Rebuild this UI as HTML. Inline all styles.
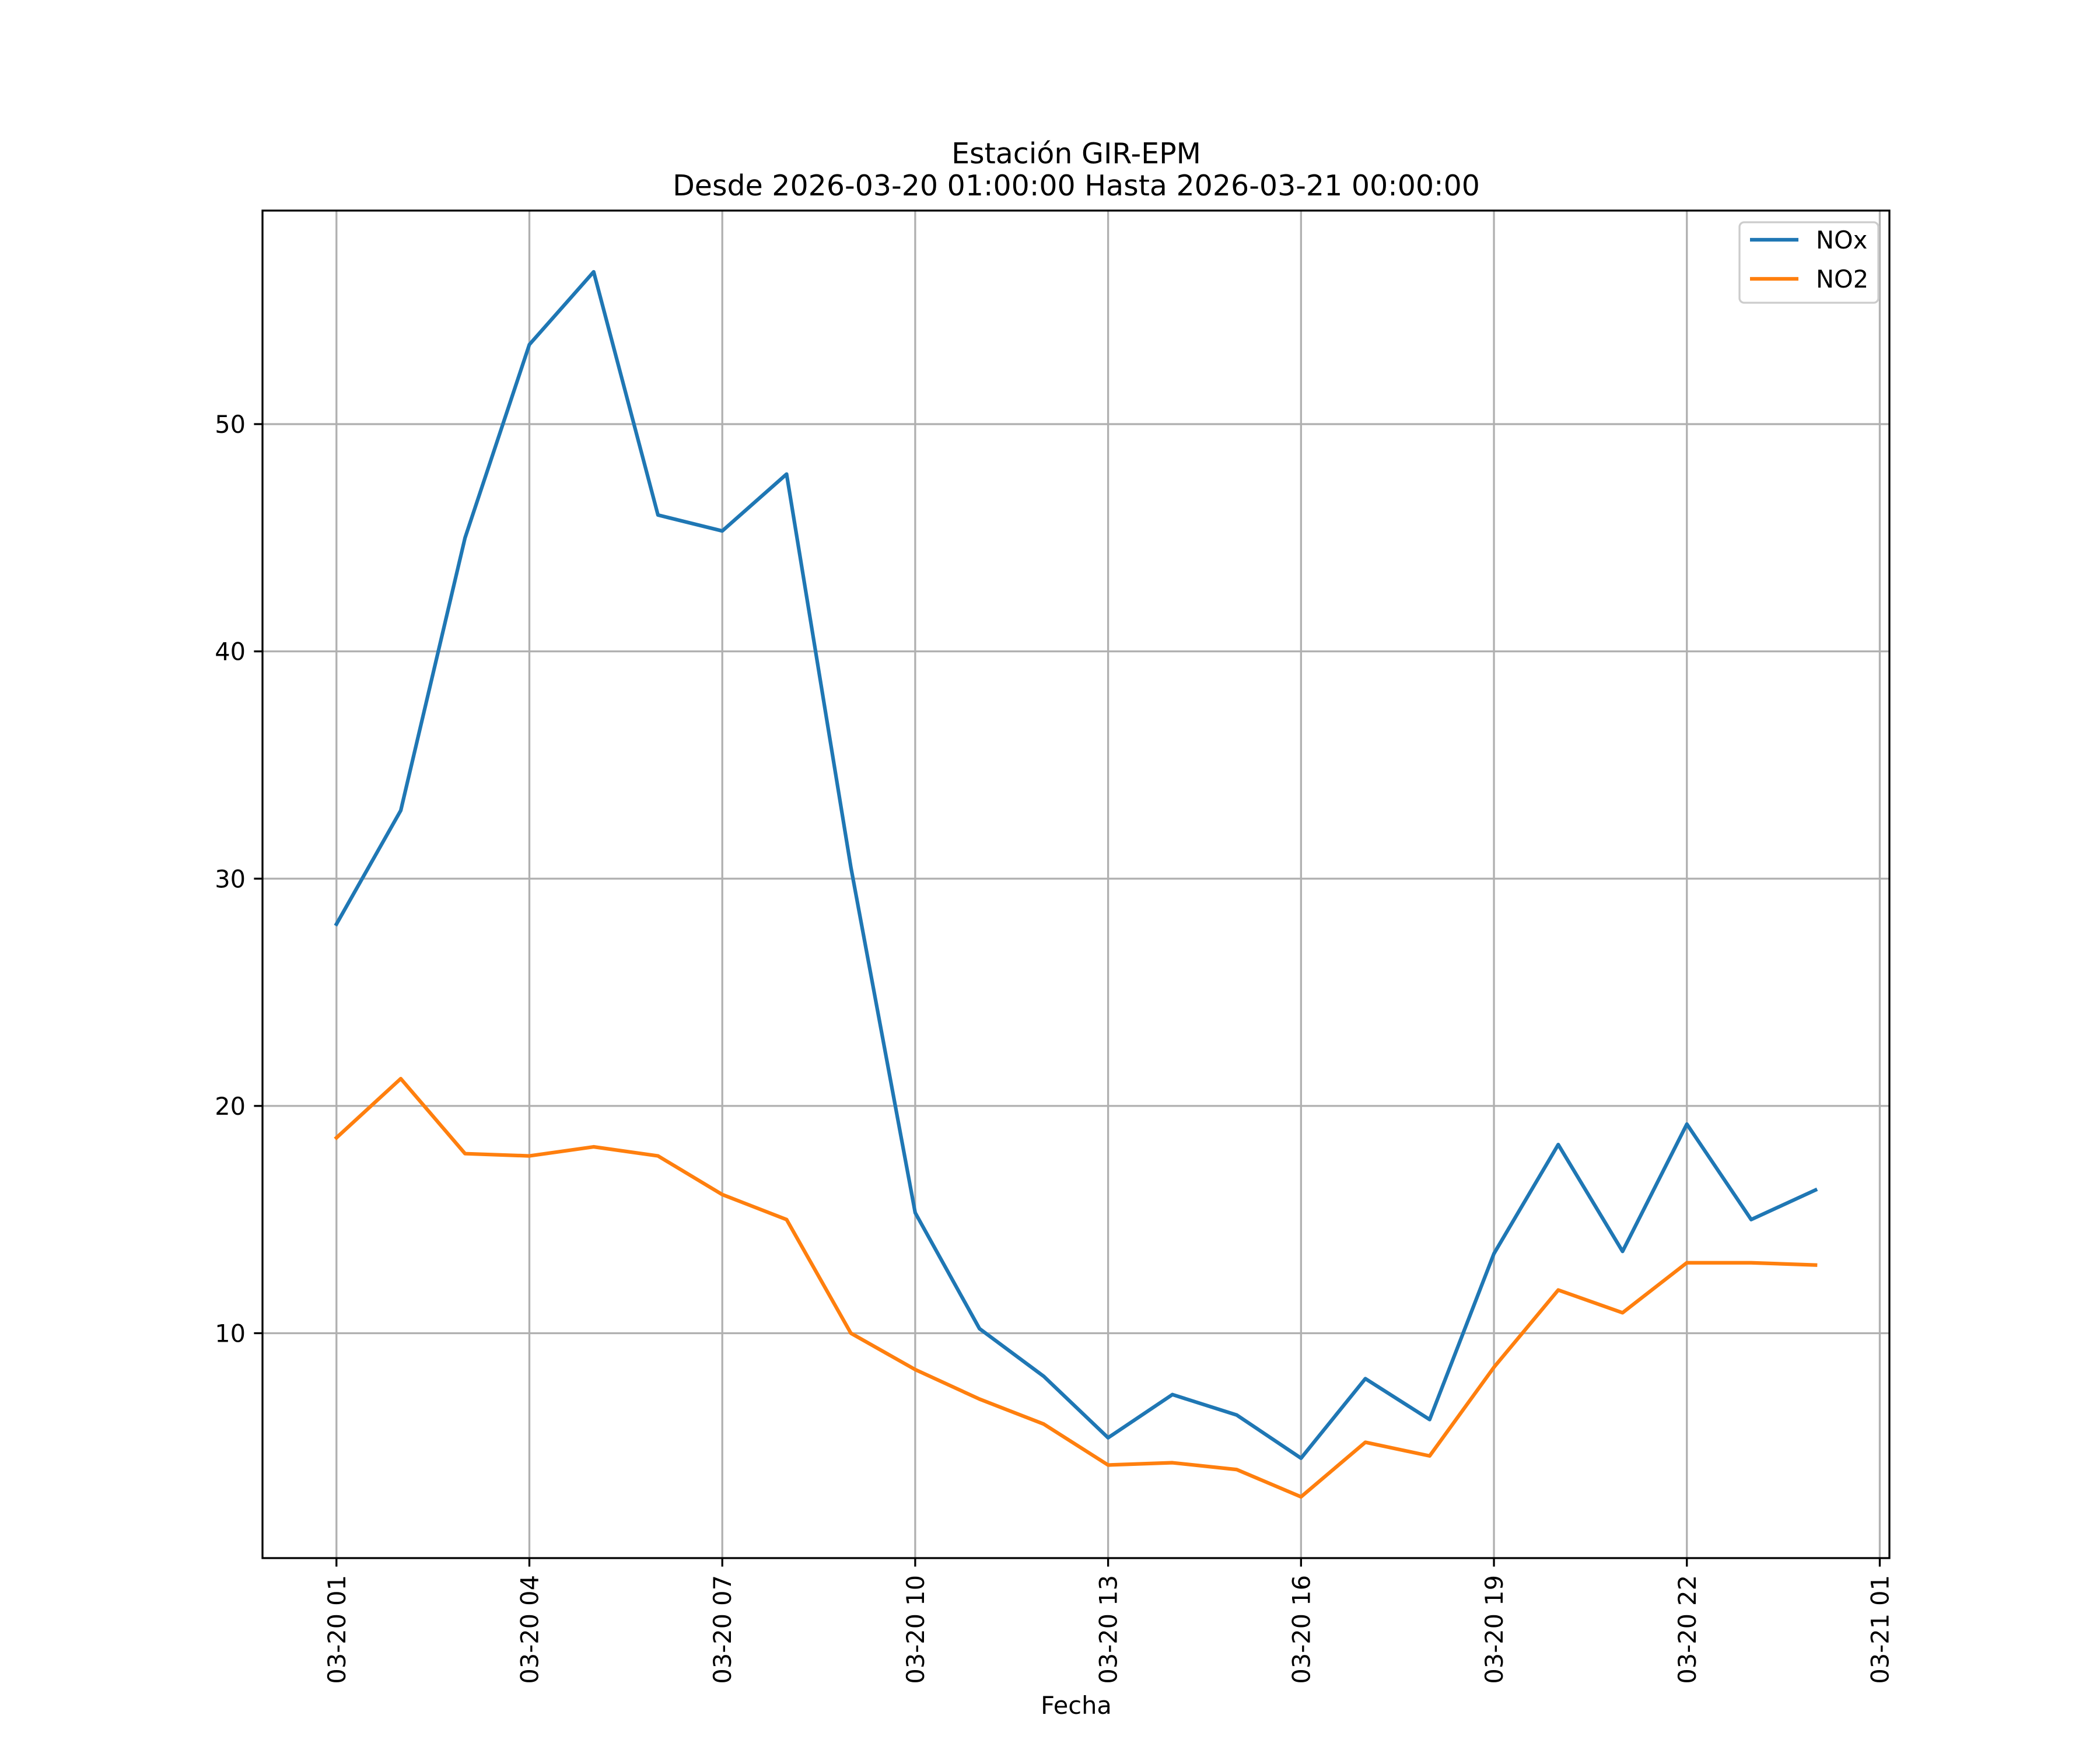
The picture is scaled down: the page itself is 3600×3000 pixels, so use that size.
<!DOCTYPE html>
<html><head><meta charset="utf-8"><style>
html,body{margin:0;padding:0;background:#fff;}
svg{display:block;font-family:"DejaVu Sans","Liberation Sans",sans-serif;}
</style></head><body>
<svg id="chart" width="3600" height="3000" viewBox="0 0 3600 3000" xmlns="http://www.w3.org/2000/svg">
<rect width="3600" height="3000" fill="#fff"/>
<text x="1845" y="280" font-size="49" text-anchor="middle">Estación GIR-EPM</text>
<text x="1845" y="335" font-size="49" text-anchor="middle">Desde 2026-03-20 01:00:00 Hasta 2026-03-21 00:00:00</text>
<g id="grid"></g>
<g id="series"></g>
<rect x="450" y="361" width="2789" height="2310" fill="none" stroke="#000" stroke-width="3.3"/>
<g id="ticks"></g>
<text x="1845" y="2938" font-size="41.5" text-anchor="middle">Fecha</text>
<g>
<rect x="2982" y="381" width="238" height="138" rx="8" fill="#fff" fill-opacity="0.8" stroke="#ccc" stroke-width="3.3"/>
<line x1="3000" y1="411" x2="3083" y2="411" stroke="#1f77b4" stroke-width="6.25"/>
<text x="3113" y="426" font-size="41.5">NOx</text>
<line x1="3000" y1="478" x2="3083" y2="478" stroke="#ff7f0e" stroke-width="6.25"/>
<text x="3113" y="493" font-size="41.5">NO2</text>
</g>
</svg>
<script>
const hours = [1,2,3,4,5,6,7,8,9,10,11,12,13,14,15,16,17,18,19,20,21,22,23,24];
const noxValues = [28.0,33.0,45.0,53.5,56.7,46.0,45.3,47.8,30.5,15.3,10.2,8.1,5.4,7.3,6.4,4.5,8.0,6.2,13.5,18.3,13.6,19.2,15.0,16.3];
const no2Values = [18.6,21.2,17.9,17.8,18.2,17.8,16.1,15.0,10.0,8.4,7.1,6.0,4.2,4.3,4.0,2.8,5.2,4.6,8.5,11.9,10.9,13.1,13.1,13.0];
const xTickHours = [1,4,7,10,13,16,19,22,25];
const xTickLabels = ["03-20 01","03-20 04","03-20 07","03-20 10","03-20 13","03-20 16","03-20 19","03-20 22","03-21 01"];
const yTicks = [10,20,30,40,50];

const L=450,R=3239,T=361,B=2671;
const xmin0=Math.min(...hours), xmax0=Math.max(...hours), xm=(xmax0-xmin0)*0.05;
const xmin=xmin0-xm, xmax=xmax0+xm;
const all=noxValues.concat(no2Values);
const ymin0=Math.min(...all), ymax0=Math.max(...all), ym=(ymax0-ymin0)*0.05;
const ymin=ymin0-ym, ymax=ymax0+ym;
const X=v=>L+(v-xmin)/(xmax-xmin)*(R-L);
const Y=v=>B-(v-ymin)/(ymax-ymin)*(B-T);
const NS='http://www.w3.org/2000/svg';
function mk(tag,attrs,parent){const e=document.createElementNS(NS,tag);for(const k in attrs)e.setAttribute(k,attrs[k]);parent.appendChild(e);return e;}
const grid=document.getElementById('grid'),ticks=document.getElementById('ticks'),series=document.getElementById('series');
xTickHours.forEach((h,i)=>{
  const x=X(h);
  if(x<=R){
    const g=mk('line',{x1:x,y1:T,x2:x,y2:B,stroke:'#b0b0b0','stroke-width':3.3},grid);
    
    
  }
  const t=mk('line',{x1:x,y1:B,x2:x,y2:B+14.6,stroke:'#000','stroke-width':3.3},ticks);
  
  
  const tx=mk('text',{x:0,y:0,'font-size':41.5,'text-anchor':'end',transform:`translate(${x+15},${B+29}) rotate(-90)`},ticks);
  tx.textContent=xTickLabels[i];
  
  
});
yTicks.forEach(v=>{
  const y=Y(v);
  const g=mk('line',{x1:L,y1:y,x2:R,y2:y,stroke:'#b0b0b0','stroke-width':3.3},grid);
  
  
  const t=mk('line',{x1:L-14.6,y1:y,x2:L,y2:y,stroke:'#000','stroke-width':3.3},ticks);
  
  
  const tx=mk('text',{x:L-29,y:y+15,'font-size':41.5,'text-anchor':'end'},ticks);
  tx.textContent=String(v);
  
  
});
function line(vals,color,name){
  const p=mk('polyline',{points:vals.map((v,i)=>X(hours[i])+','+Y(v)).join(' '),fill:'none',stroke:color,'stroke-width':6.25,'stroke-linejoin':'round','stroke-linecap':'square'},series);
  
  
}
line(noxValues,'#1f77b4','nox-line');
line(no2Values,'#ff7f0e','no2-line');
</script>
</body></html>
